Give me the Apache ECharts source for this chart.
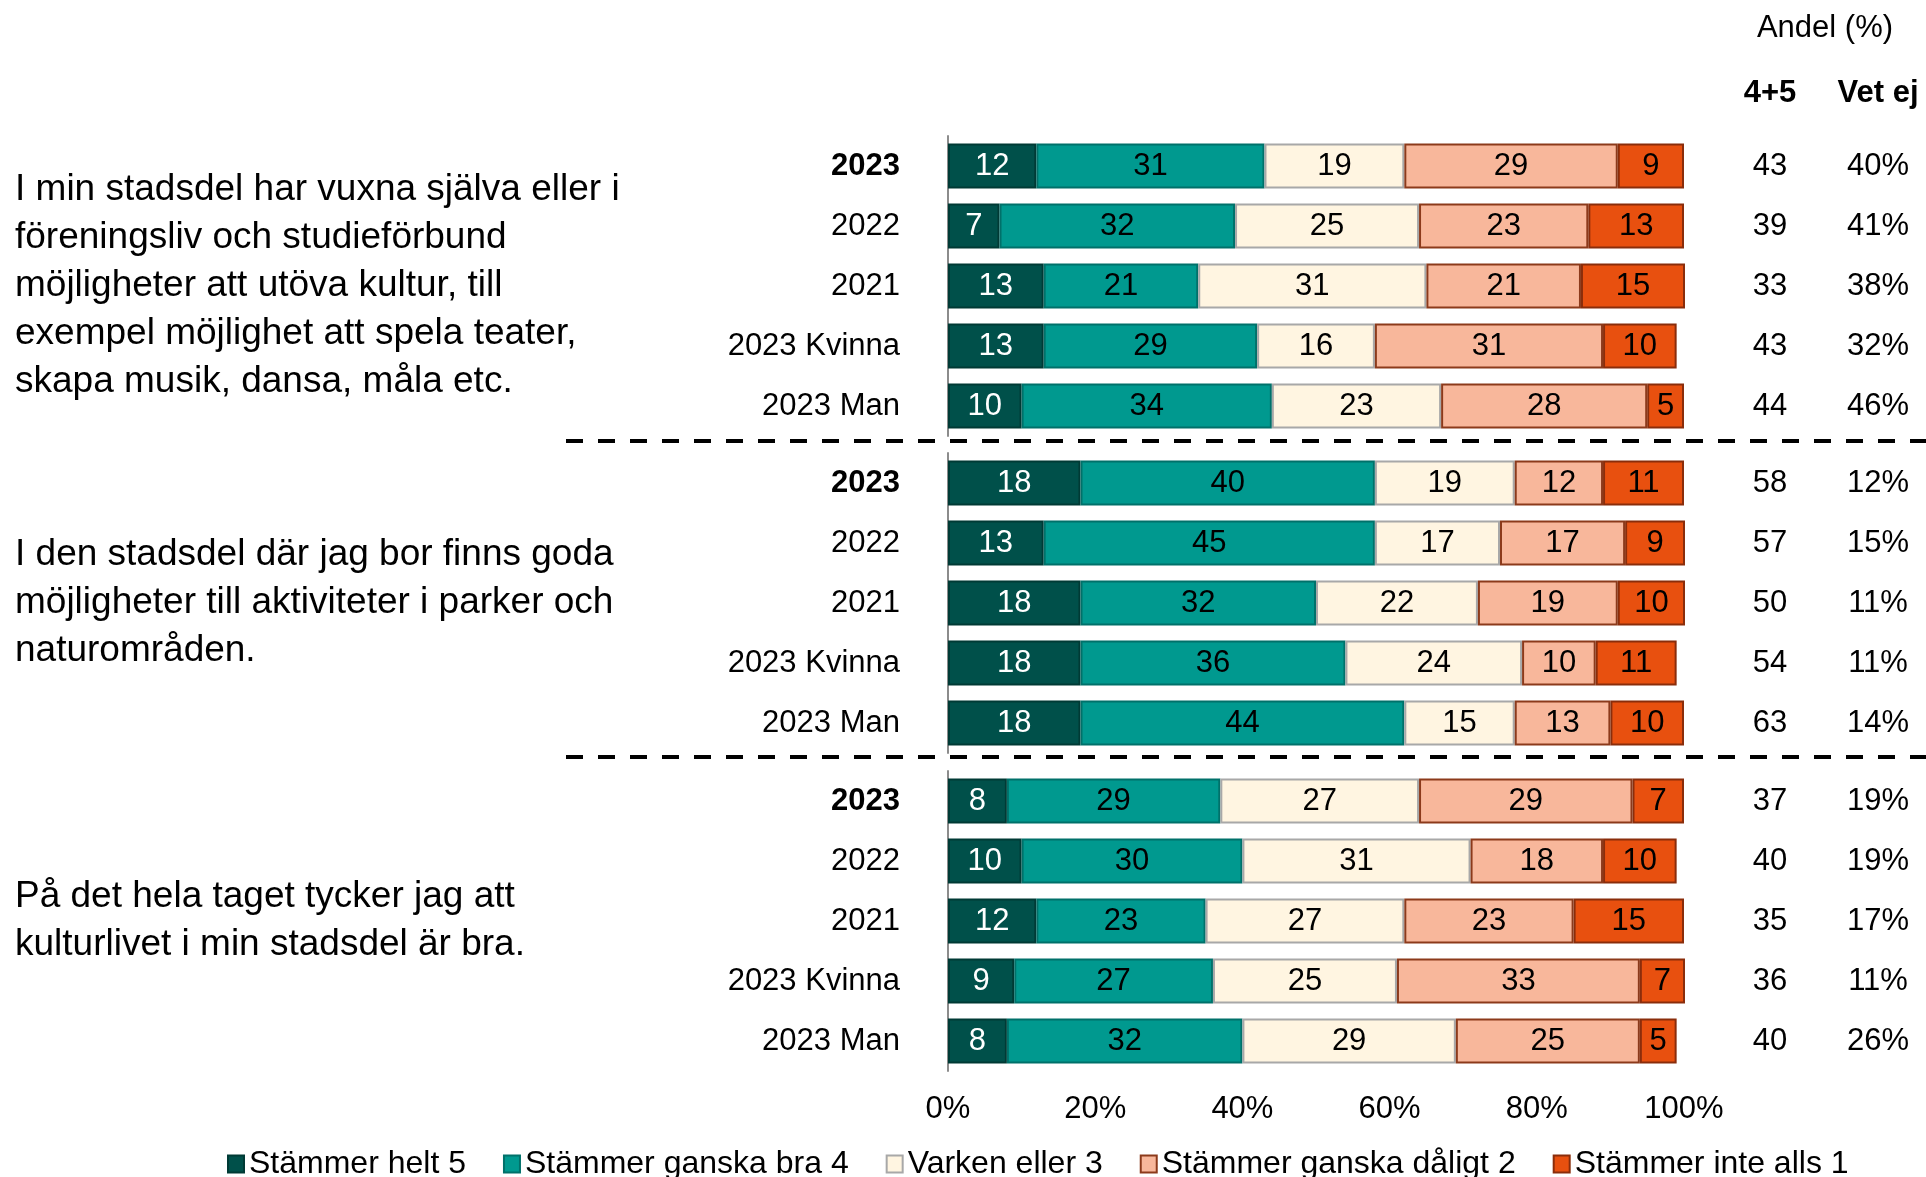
<!DOCTYPE html>
<html>
<head>
<meta charset="utf-8">
<script src="https://cdn.jsdelivr.net/npm/echarts@6/dist/echarts.min.js"></script>
<style>
  html, body { margin: 0; padding: 0; background: #fff; }
  #chart { width: 1926px; height: 1177px; }
</style>
</head>
<body>
<div id="chart"></div>
<script>
// Rows shown for each statement (top to bottom)
const rowLabels = ['2023', '2022', '2021', '2023 Kvinna', '2023 Man'];

// Answer scale, from "agree fully" to "disagree fully"
const answerNames = ['Stämmer helt 5', 'Stämmer ganska bra 4', 'Varken eller 3', 'Stämmer ganska dåligt 2', 'Stämmer inte alls 1'];

// Statements
const questions = [
  'I min stadsdel har vuxna själva eller i\nföreningsliv och studieförbund\nmöjligheter att utöva kultur, till\nexempel möjlighet att spela teater,\nskapa musik, dansa, måla etc.',
  'I den stadsdel där jag bor finns goda\nmöjligheter till aktiviteter i parker och\nnaturområden.',
  'På det hela taget tycker jag att\nkulturlivet i min stadsdel är bra.'
];

// Share (%) per answer, one array per row: [5, 4, 3, 2, 1]
const q1Values = [
  [12, 31, 19, 29, 9],
  [7, 32, 25, 23, 13],
  [13, 21, 31, 21, 15],
  [13, 29, 16, 31, 10],
  [10, 34, 23, 28, 5]
];
const q2Values = [
  [18, 40, 19, 12, 11],
  [13, 45, 17, 17, 9],
  [18, 32, 22, 19, 10],
  [18, 36, 24, 10, 11],
  [18, 44, 15, 13, 10]
];
const q3Values = [
  [8, 29, 27, 29, 7],
  [10, 30, 31, 18, 10],
  [12, 23, 27, 23, 15],
  [9, 27, 25, 33, 7],
  [8, 32, 29, 25, 5]
];

// Summary columns: share answering 4 or 5, and share "Vet ej"
const q1Agree = ['43', '39', '33', '43', '44'];
const q2Agree = ['58', '57', '50', '54', '63'];
const q3Agree = ['37', '40', '35', '36', '40'];
const q1DontKnow = ['40%', '41%', '38%', '32%', '46%'];
const q2DontKnow = ['12%', '15%', '11%', '11%', '14%'];
const q3DontKnow = ['19%', '19%', '17%', '11%', '26%'];

// Percentage axis ticks
const xTicks = [0, 20, 40, 60, 80, 100];

const FONT = "'Liberation Sans', Arial, Helvetica, sans-serif";
const FS = 31;
const fills = ['#00504A', '#00998F', '#FFF5E1', '#F8B79B', '#E8500F'];
const borders = ['#003A35', '#00716A', '#A8A8A8', '#8C3A1B', '#8A2D0B'];
const labelColors = ['#ffffff', '#000000', '#000000', '#000000', '#000000'];

const groups = [
  { values: q1Values, agree: q1Agree, dk: q1DontKnow, top: 136 },
  { values: q2Values, agree: q2Agree, dk: q2DontKnow, top: 453 },
  { values: q3Values, agree: q3Agree, dk: q3DontKnow, top: 771 }
];
const GRID_H = 300;

const grid = [], xAxis = [], yAxis = [], series = [];

groups.forEach((g, gi) => {
  grid.push({ left: 948, width: 736, top: g.top, height: GRID_H });

  xAxis.push({
    gridIndex: gi, type: 'value', min: xTicks[0], max: xTicks[xTicks.length - 1],
    interval: xTicks[1] - xTicks[0],
    axisLine: { show: false }, axisTick: { show: false }, splitLine: { show: false },
    axisLabel: {
      show: gi === groups.length - 1, formatter: '{value}%', margin: 23,
      fontSize: FS, fontFamily: FONT, color: '#000'
    }
  });

  // row labels on the left
  yAxis.push({
    gridIndex: gi, type: 'category', data: rowLabels, inverse: true,
    axisLine: { show: true, lineStyle: { color: '#8c8c8c', width: 2 } },
    axisTick: { show: false },
    axisLabel: {
      margin: 48, fontSize: FS, fontFamily: FONT, color: '#000',
      formatter: (v, i) => (i === 0 ? '{b|' + v + '}' : v),
      rich: { b: { fontSize: FS, fontFamily: FONT, fontWeight: 'bold', color: '#000' } }
    }
  });
  // "4+5" column
  yAxis.push({
    gridIndex: gi, type: 'category', data: g.agree, inverse: true, position: 'right',
    axisLine: { show: false }, axisTick: { show: false },
    axisLabel: { margin: 86, align: 'center', fontSize: FS, fontFamily: FONT, color: '#000' }
  });
  // "Vet ej" column
  yAxis.push({
    gridIndex: gi, type: 'category', data: g.dk, inverse: true, position: 'right',
    axisLine: { show: false }, axisTick: { show: false },
    axisLabel: { margin: 194, align: 'center', fontSize: FS, fontFamily: FONT, color: '#000' }
  });

  answerNames.forEach((name, ai) => {
    series.push({
      name: name, type: 'bar', stack: 'g' + gi,
      xAxisIndex: gi, yAxisIndex: gi * 3,
      barCategoryGap: '25%',
      data: g.values.map(row => row[ai]),
      itemStyle: { color: fills[ai], borderColor: borders[ai], borderWidth: 2 },
      label: {
        show: true, position: 'inside', fontSize: FS, fontFamily: FONT,
        color: labelColors[ai]
      },
      emphasis: { disabled: true },
      animation: false
    });
  });
});

const graphic = [];
// statement texts, centred on their block of rows
groups.forEach((g, gi) => {
  graphic.push({
    type: 'text', x: 15, y: g.top + GRID_H / 2,
    style: {
      text: questions[gi], fill: '#000', fontSize: 37, fontFamily: FONT,
      lineHeight: 48, align: 'left', verticalAlign: 'middle'
    }
  });
});
// dashed separators between statements
[441, 757].forEach(y => {
  graphic.push({
    type: 'line', shape: { x1: 566, y1: y, x2: 1926, y2: y },
    style: { stroke: '#000', lineWidth: 4, lineDash: [17, 15] }
  });
});
// column headers
graphic.push(
  { type: 'text', x: 1825, y: 28, style: { text: 'Andel (%)', fill: '#000', fontSize: FS, fontFamily: FONT, align: 'center', verticalAlign: 'middle' } },
  { type: 'text', x: 1770, y: 93, style: { text: '4+5', fill: '#000', fontSize: FS, fontWeight: 'bold', fontFamily: FONT, align: 'center', verticalAlign: 'middle' } },
  { type: 'text', x: 1878, y: 93, style: { text: 'Vet ej', fill: '#000', fontSize: FS, fontWeight: 'bold', fontFamily: FONT, align: 'center', verticalAlign: 'middle' } }
);

const chart = echarts.init(document.getElementById('chart'), null, { renderer: 'canvas' });
chart.setOption({
  backgroundColor: '#ffffff',
  animation: false,
  grid: grid,
  xAxis: xAxis,
  yAxis: yAxis,
  series: series,
  graphic: graphic,
  legend: {
    data: answerNames, left: 222, top: 1143,
    itemWidth: 16, itemHeight: 17, itemGap: 37, icon: 'rect',
    textStyle: { fontSize: 32, fontFamily: FONT, color: '#000' }
  }
});
</script>
</body>
</html>
